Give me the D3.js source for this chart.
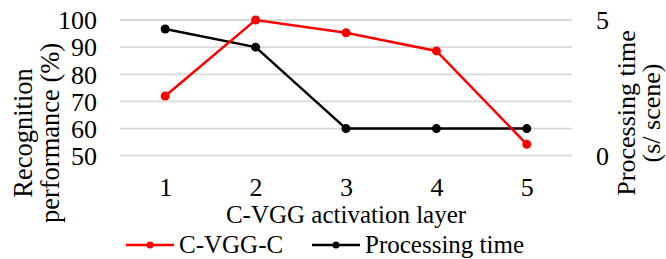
<!DOCTYPE html>
<html><head><meta charset="utf-8">
<script src="https://cdn.jsdelivr.net/npm/d3@7"></script>
</head>
<body style="margin:0;background:#fff">
<svg id="chart" width="666" height="259"></svg>
<script>
const layers = [1, 2, 3, 4, 5];
const recognition = [72, 100, 95.3, 88.6, 54.2];
const procTime = [4.67, 4.0, 1.0, 1.0, 1.0];
const leftTicks = [50, 60, 70, 80, 90, 100];
const rightTicks = [0, 5];
const seriesNames = ["C-VGG-C", "Processing time"];
const seriesColors = ["#ff0000", "#000000"];

const FONT = "'Liberation Serif'";
const svg = d3.select("#chart");
const L = 120, R = 572, T = 20, B = 155.7;

const x = d3.scalePoint().domain(layers).range([L, R]).padding(0.5);
const yL = d3.scaleLinear().domain([50, 100]).range([B, T]);
const yR = d3.scaleLinear().domain([0, 5]).range([B, T]);

// gridlines
svg.append("g").selectAll("line").data(leftTicks).join("line")
  .attr("x1", L).attr("x2", R)
  .attr("y1", d => yL(d)).attr("y2", d => yL(d))
  .attr("stroke", "#d9d9d9").attr("stroke-width", 1.8);

function styleAxis(g) {
  g.attr("font-family", FONT).attr("font-size", 26);
  g.select(".domain").remove();
  g.selectAll("text").attr("font-family", FONT).attr("font-size", 26).attr("fill", "#000");
}

// left axis
const gl = svg.append("g").attr("transform", `translate(${L},0)`)
  .call(d3.axisLeft(yL).tickValues(leftTicks).tickFormat(d3.format("d")).tickSize(0).tickPadding(23));
styleAxis(gl);
gl.selectAll("text").attr("dy", "0.34em");

// right axis
const gr = svg.append("g").attr("transform", `translate(${R},0)`)
  .call(d3.axisRight(yR).tickValues(rightTicks).tickFormat(d3.format("d")).tickSize(0).tickPadding(24));
styleAxis(gr);
gr.selectAll("text").attr("dy", "0.34em");

// x axis
const gx = svg.append("g").attr("transform", `translate(0,${B})`)
  .call(d3.axisBottom(x).tickSize(0).tickPadding(22));
styleAxis(gx);
gx.selectAll("text").attr("dy", "0.71em");

// lines
const series = [
  {vals: recognition, y: yL, color: seriesColors[0]},
  {vals: procTime, y: yR, color: seriesColors[1]}
];
series.slice().reverse().forEach(s => {
  const line = d3.line().x((d, i) => x(layers[i])).y(d => s.y(d));
  svg.append("path").datum(s.vals).attr("d", line)
    .attr("fill", "none").attr("stroke", s.color).attr("stroke-width", 2.5);
  svg.append("g").selectAll("circle").data(s.vals).join("circle")
    .attr("cx", (d, i) => x(layers[i])).attr("cy", d => s.y(d))
    .attr("r", 4.5).attr("fill", s.color);
});

function txt(t, tr, size, anchor) {
  return svg.append("text").attr("transform", tr).attr("text-anchor", anchor || "middle")
    .attr("font-family", FONT).attr("font-size", size).attr("fill", "#000").text(t);
}
// axis titles
txt("Recognition", "translate(32,133) rotate(-90)", 26.5);
txt("performance (%)", "translate(59,133) rotate(-90)", 26.5);
txt("Processing time", "translate(635,113) rotate(-90)", 26);
txt("(s/ scene)", "translate(660,113) rotate(-90)", 26);
txt("C-VGG activation layer", `translate(${(L + R) / 2},223)`, 25);

// legend
const legX = [126, 312];
seriesNames.forEach((n, i) => {
  const g = svg.append("g").attr("transform", `translate(${legX[i]},245)`);
  g.append("line").attr("x1", 0).attr("x2", 48).attr("y1", 0).attr("y2", 0)
    .attr("stroke", seriesColors[i]).attr("stroke-width", 2.5);
  g.append("circle").attr("cx", 24).attr("cy", 0).attr("r", 3.5).attr("fill", seriesColors[i]);
  g.append("text").attr("x", 53).attr("y", 8).attr("font-family", FONT)
    .attr("font-size", 25).attr("fill", "#000").text(n);
});
</script>
</body></html>
